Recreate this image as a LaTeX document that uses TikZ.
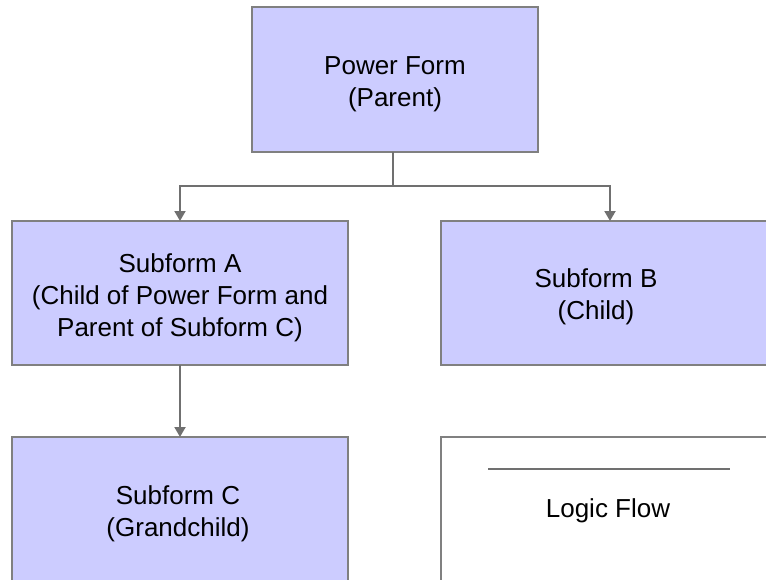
\documentclass[tikz,border=0pt]{standalone}
\usepackage{fontspec}
\setmainfont{Liberation Sans}
\usetikzlibrary{arrows.meta}
\definecolor{boxfill}{HTML}{CCCCFF}
\definecolor{boxline}{HTML}{808080}
\definecolor{flowline}{HTML}{707070}
\tikzset{
  formbox/.style={draw=boxline, line width=2pt, fill=boxfill, rectangle, inner sep=0pt, outer sep=0pt},
  legendbox/.style={draw=boxline, line width=2pt, fill=white, rectangle, inner sep=0pt, outer sep=0pt},
  txt/.style={align=center, inner sep=0pt, font=\fontsize{26}{32}\selectfont},
  conn/.style={draw=flowline, line width=2pt},
  arrowconn/.style={conn, -{Triangle[width=11pt,length=10pt]}}
}
\begin{document}
\begin{tikzpicture}[x=1pt,y=-1pt]
\useasboundingbox (0,0) rectangle (766,579);
\clip (0,0) rectangle (766,579);
\node[formbox, minimum width=286pt, minimum height=145pt] (P) at (395,79.5) {};
\node[txt] (Ptext) at (395,84) {Power Form\\(Parent)};
\node[formbox, minimum width=336pt, minimum height=144pt] (A) at (180,293) {};
\node[txt] (Atext) at (180,297.5) {Subform A\\(Child of Power Form and\\Parent of Subform C)};
\node[formbox, minimum width=338pt, minimum height=144pt] (B) at (610,293) {};
\node[txt] (Btext) at (596,297) {Subform B\\(Child)};
\node[formbox, minimum width=336pt, minimum height=144pt] (C) at (180,509) {};
\node[txt] (Ctext) at (178,514) {Subform C\\(Grandchild)};
\node[legendbox, minimum width=338pt, minimum height=144pt] (L) at (610,509) {};
\coordinate (l1) at (488,469);
\coordinate (l2) at (730,469);
\draw[conn] (l1) -- (l2);
\node[txt] (Ltext) at (608,511) {Logic Flow};
\coordinate (j) at (393,186);
\draw[conn] (P.south -| j) -- (j);
\draw[arrowconn] (j) -| (A.north);
\draw[arrowconn] (j) -| (B.north);
\draw[arrowconn] (A.south) -- (C.north);
\end{tikzpicture}
\end{document}
